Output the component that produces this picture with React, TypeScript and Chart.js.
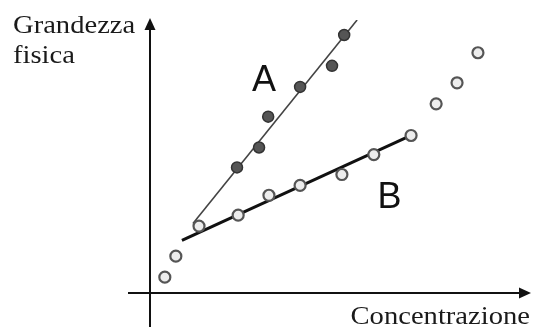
import React, { useEffect, useRef } from "react";
import { Chart, registerables } from "chart.js";

Chart.register(...registerables);

// Series A (filled dark points)
const seriesAX = [2.29, 2.87, 3.11, 3.95, 4.79, 5.11];
const seriesAY = [4.6, 5.33, 6.46, 7.55, 8.32, 9.45];
// Series B (open points)
const seriesBX = [0.39, 0.68, 1.29, 2.32, 3.13, 3.95, 5.05, 5.89, 6.87, 7.53, 8.08, 8.63];
const seriesBY = [0.58, 1.35, 2.45, 2.85, 3.58, 3.94, 4.34, 5.07, 5.77, 6.93, 7.7, 8.8];
// Fitted lines (endpoints)
const lineAX = [1.13, 5.45];
const lineAY = [2.55, 10.0];
const lineBX = [0.84, 6.87];
const lineBY = [1.93, 5.77];
// Labels
const seriesLabels = ["A", "B"];
const labelX = [3.0, 6.3];
const labelY = [7.8, 3.5];
const yAxisTitle = ["Grandezza", "fisica"];
const xAxisTitle = "Concentrazione";

const toPts = (xs: number[], ys: number[]) => xs.map((x, i) => ({ x, y: ys[i] }));

const TITLE_STRETCH = 1.1;

const axesPlugin = {
  id: "axesArrows",
  beforeDatasetsDraw(chart: any) {
    const ctx = chart.ctx;
    const xs = chart.scales.x;
    const ys = chart.scales.y;
    const x0 = xs.getPixelForValue(0);
    const y0 = ys.getPixelForValue(0);
    const xEnd = xs.getPixelForValue(10);
    const yEnd = ys.getPixelForValue(10);
    ctx.save();
    ctx.strokeStyle = "#111";
    ctx.fillStyle = "#111";
    ctx.lineWidth = 2;
    // vertical axis
    ctx.beginPath();
    ctx.moveTo(x0, chart.height);
    ctx.lineTo(x0, yEnd + 8);
    ctx.stroke();
    ctx.beginPath();
    ctx.moveTo(x0, yEnd - 2);
    ctx.lineTo(x0 - 5.5, yEnd + 10);
    ctx.lineTo(x0 + 5.5, yEnd + 10);
    ctx.closePath();
    ctx.fill();
    // horizontal axis
    ctx.beginPath();
    ctx.moveTo(x0 - 22, y0);
    ctx.lineTo(xEnd - 8, y0);
    ctx.stroke();
    ctx.beginPath();
    ctx.moveTo(xEnd + 1, y0);
    ctx.lineTo(xEnd - 11, y0 - 5.5);
    ctx.lineTo(xEnd - 11, y0 + 5.5);
    ctx.closePath();
    ctx.fill();

    // axis titles (slightly widened serif)
    ctx.font = "26px 'Liberation Serif', serif";
    ctx.textBaseline = "alphabetic";
    ctx.textAlign = "left";
    ctx.fillStyle = "#1a1a1a";
    const drawStretched = (t: string, x: number, y: number) => {
      ctx.save();
      ctx.translate(x, y);
      ctx.scale(TITLE_STRETCH, 1);
      ctx.fillText(t, 0, 0);
      ctx.restore();
    };
    drawStretched(yAxisTitle[0], 13, yEnd + 13);
    drawStretched(yAxisTitle[1], 13, yEnd + 43);
    const w = ctx.measureText(xAxisTitle).width * TITLE_STRETCH;
    drawStretched(xAxisTitle, xEnd - w, y0 + 31);
    ctx.restore();
  },
  afterDatasetsDraw(chart: any) {
    const ctx = chart.ctx;
    const xs = chart.scales.x;
    const ys = chart.scales.y;
    ctx.save();
    ctx.font = "36px 'Liberation Sans', Arial, sans-serif";
    ctx.fillStyle = "#111";
    ctx.textAlign = "center";
    ctx.textBaseline = "middle";
    seriesLabels.forEach((t, i) => {
      ctx.fillText(t, xs.getPixelForValue(labelX[i]), ys.getPixelForValue(labelY[i]) + 1);
    });
    ctx.restore();
  },
};

export default function App() {
  const ref = useRef<HTMLCanvasElement>(null);
  useEffect(() => {
    document.body.style.margin = "0";
    const chart = new Chart(ref.current!, {
      type: "scatter",
      data: {
        datasets: [
          {
            type: "line",
            data: toPts(lineAX, lineAY),
            borderColor: "#444",
            borderWidth: 1.6,
            pointRadius: 0,
            fill: false,
            order: 2,
          } as any,
          {
            type: "line",
            data: toPts(lineBX, lineBY),
            borderColor: "#111",
            borderWidth: 3,
            pointRadius: 0,
            fill: false,
            order: 2,
          } as any,
          {
            data: toPts(seriesBX, seriesBY),
            backgroundColor: "#ededed",
            borderColor: "#555",
            borderWidth: 2.2,
            pointRadius: 5.5,
            order: 1,
          },
          {
            data: toPts(seriesAX, seriesAY),
            backgroundColor: "#555",
            borderColor: "#333",
            borderWidth: 1.5,
            pointRadius: 5.5,
            order: 0,
          },
        ],
      },
      options: {
        responsive: false,
        animation: false,
        layout: { padding: { left: 150, right: 8, top: 20, bottom: 34 } },
        plugins: { legend: { display: false }, tooltip: { enabled: false } },
        scales: {
          x: { type: "linear", min: 0, max: 10, display: false },
          y: { type: "linear", min: 0, max: 10, display: false },
        },
      },
      plugins: [axesPlugin],
    });
    return () => chart.destroy();
  }, []);
  return <canvas ref={ref} width={538} height={327} style={{ display: "block" }} />;
}
